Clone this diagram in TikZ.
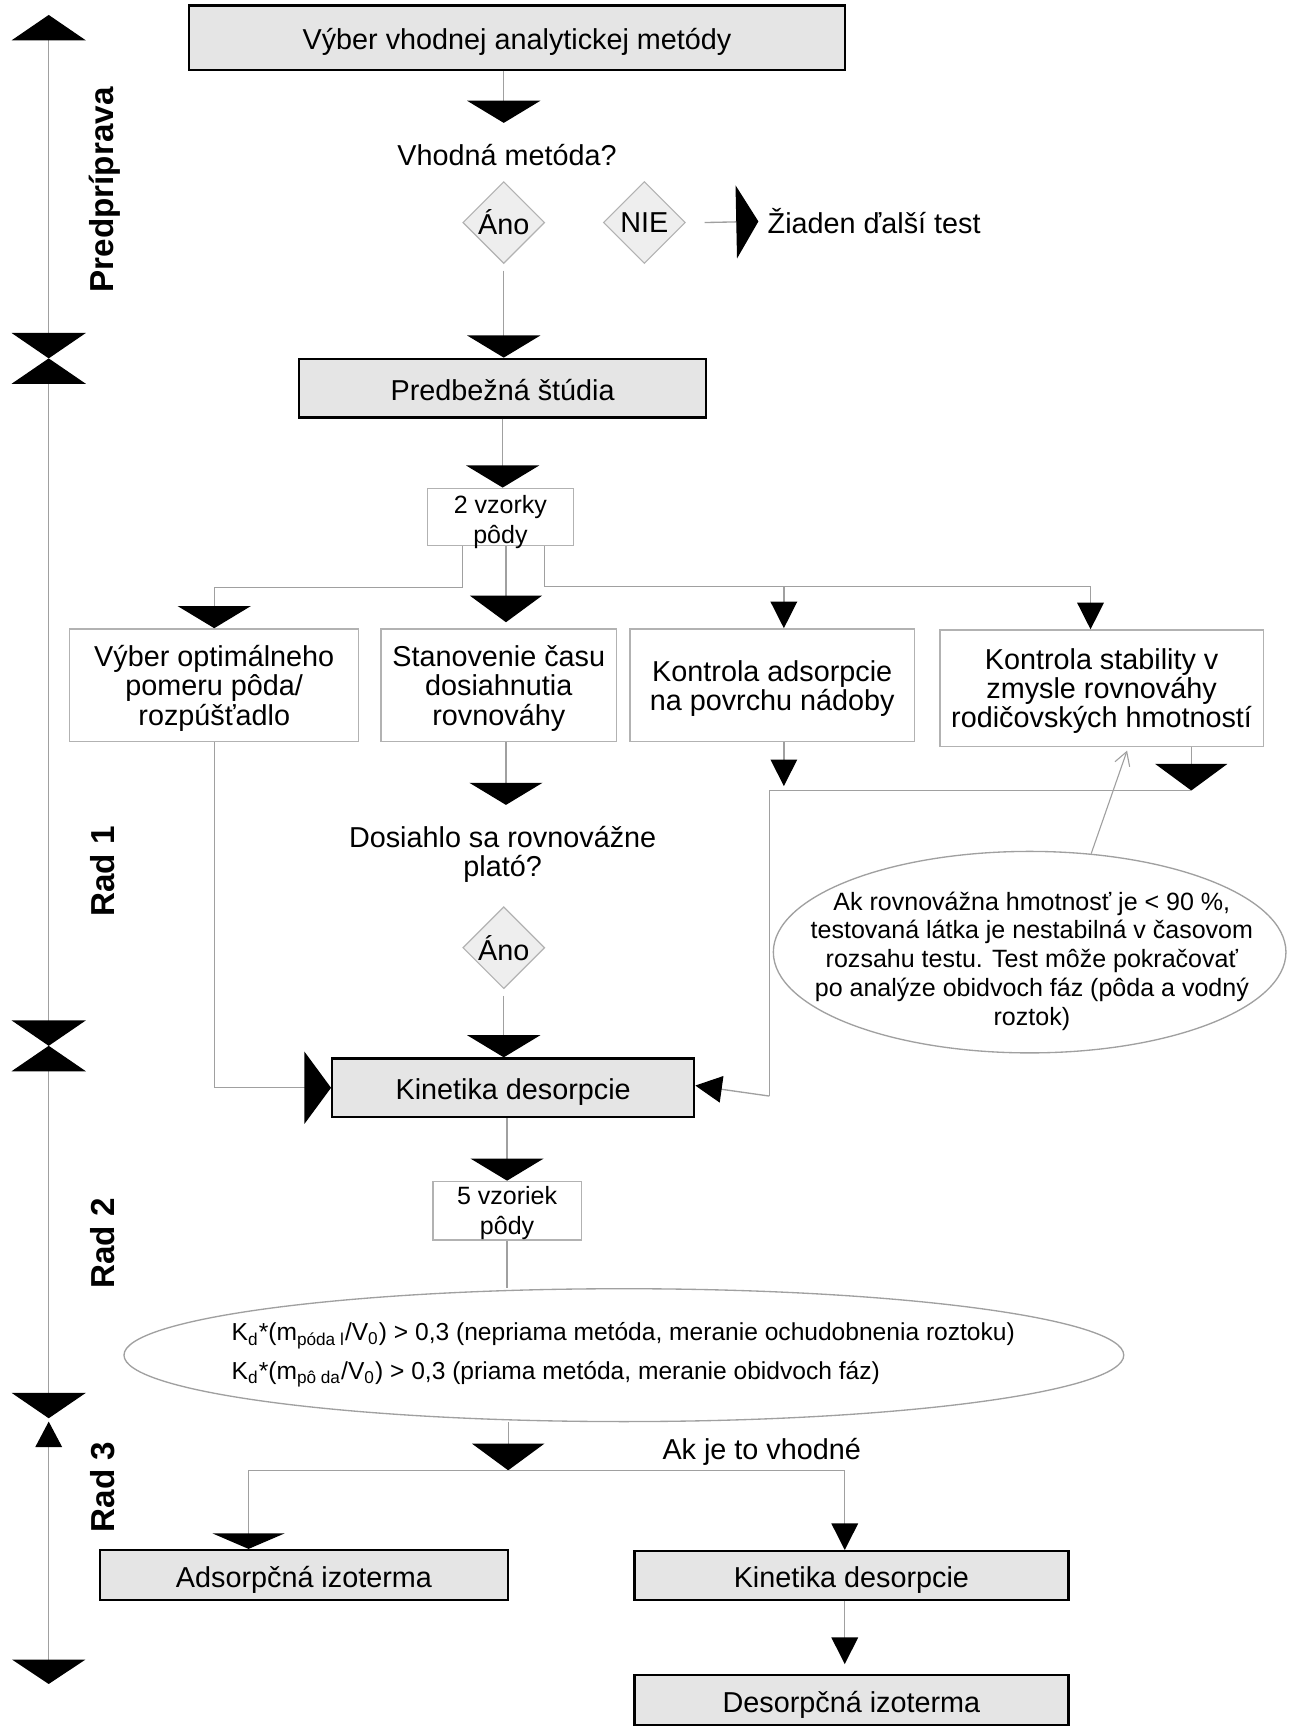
\documentclass[tikz,border=0pt]{standalone}
\usepackage{fontspec}
\setmainfont{Liberation Sans}
\usepackage{xcolor}
\definecolor{boxgray}{RGB}{229,229,229}
\definecolor{diafill}{RGB}{238,238,238}
\definecolor{linegray}{RGB}{160,160,160}
\definecolor{rimgray}{RGB}{178,178,178}
\usepackage{tikz}
\usetikzlibrary{shapes.geometric, arrows.meta, positioning}

\begin{document}
\begin{tikzpicture}[x=0.5pt, y=-0.5pt,
    txt/.style={font=\fontsize{13}{13.3}\selectfont, align=center},
    smalltxt/.style={font=\fontsize{11.3}{13.5}\selectfont, align=center},
    mainbox/.style={draw=black, line width=1pt, fill=boxgray, inner sep=0pt, txt, text height=14pt, text depth=3pt},
    lightbox/.style={draw=rimgray, line width=0.6pt, fill=white, inner sep=0pt},
    answer/.style={diamond, draw=rimgray, line width=0.5pt, fill=diafill, inner sep=0pt, minimum size=37pt, txt},
    phase/.style={rotate=90, font=\bfseries\fontsize{15}{17}\selectfont},
    conn/.style={draw=linegray, line width=0.6pt},
    bigarr/.style={arrows={-{Triangle[width=33pt,length=10pt,color=black,fill=black]}}},
    deeparr/.style={arrows={-{Triangle[width=32.5pt,length=12pt,color=black,fill=black]}}},
    flatarr/.style={arrows={-{Triangle[width=32.5pt,length=7pt,color=black,fill=black]}}},
    smallarr/.style={arrows={-{Triangle[width=12pt,length=12pt,color=black,fill=black]}}},
    ptrarr/.style={arrows={-{Straight Barb[length=6pt,width=7pt]}}},
    axboth/.style={arrows={{Triangle[width=33.5pt,length=11.5pt,color=black,fill=black]}-{Triangle[width=33.5pt,length=11.5pt,color=black,fill=black]}}},
    axlast/.style={arrows={{Triangle[width=12pt,length=11.5pt,color=black,fill=black]}-{Triangle[width=33pt,length=11pt,color=black,fill=black]}}}
  ]
  \path[use as bounding box, fill=white] (0,0) rectangle (1173,1568);

  \draw[conn, axboth] (44,13.5) -- (44,323.7);
  \draw[conn, axboth] (44,323.7) -- (44,944.6);
  \draw[conn, axboth] (44,944.6) -- (44,1281);
  \draw[conn, axlast] (44,1284) -- (44,1521);
  \node[phase] (pred) at (95,171.5) {Predpríprava};
  \node[phase] (rad1) at (93,787) {Rad 1};
  \node[phase] (rad2) at (93,1123) {Rad 2};
  \node[phase] (rad3) at (93,1343) {Rad 3};

  \node[mainbox, minimum width=296pt, minimum height=29pt] (top) at (467,34) {Výber vhodnej analytickej metódy};
  \node[txt] (vq) at (458,140) {Vhodná metóda?};
  \node[answer] (ano1) at (455,201) {Áno};
  \node[answer] (nie) at (582,201) {NIE};
  \node[txt, anchor=west, inner sep=0pt] (notest) at (693,200) {Žiaden ďalší test};
  \node[mainbox, minimum width=184pt, minimum height=26.5pt] (pre) at (454,350.5) {Predbežná štúdia};
  \node[lightbox, smalltxt, text height=24pt, text depth=0pt, minimum width=66pt, minimum height=26pt] (vz2) at (452,467) {2 vzorky\\pôdy};

  \node[lightbox, txt, text depth=-1.3pt, minimum width=130.5pt, minimum height=51pt] (boxA) at (193.5,619) {Výber optimálneho\\pomeru pôda/\\rozpúšťadlo};
  \node[lightbox, txt, text depth=-1.3pt, minimum width=106.5pt, minimum height=51pt] (boxB) at (450.5,619) {Stanovenie času\\dosiahnutia\\rovnováhy};
  \node[lightbox, txt, text depth=-1.3pt, minimum width=128.5pt, minimum height=51pt] (boxC) at (697.5,619) {Kontrola adsorpcie\\na povrchu nádoby};
  \node[lightbox, txt, text depth=-1.3pt, minimum width=146pt, minimum height=52.5pt] (boxD) at (995,621.5) {Kontrola stability v\\zmysle rovnováhy\\rodičovských hmotností};

  \node[txt] (q2) at (454,771.5) {Dosiahlo sa rovnovážne\\plató?};
  \node[answer] (ano2) at (455,856) {Áno};
  \node[mainbox, minimum width=163.5pt, minimum height=26.5pt] (kin) at (463.5,982.5) {Kinetika desorpcie};

  \node[ellipse, draw=linegray, line width=0.6pt, fill=white, inner sep=0pt, minimum width=231.5pt, minimum height=91pt] (note) at (930,860) {};
  \node[font=\fontsize{11.3}{13}\selectfont, align=center] (notetext) at (932,868) {Ak rovnovážna hmotnosť je < 90 \%,\\testovaná látka je nestabilná v časovom\\rozsahu testu. Test môže pokračovať\\po analýze obidvoch fáz (pôda a vodný\\roztok)};

  \node[lightbox, smalltxt, text depth=-1.6pt, minimum width=67pt, minimum height=26.5pt] (vz5) at (458,1093.5) {5 vzoriek\\pôdy};
  \node[ellipse, draw=linegray, line width=0.6pt, fill=white, inner sep=0pt, minimum width=451.5pt, minimum height=60pt] (kd) at (563.5,1224) {};
  \node[font=\fontsize{11.1}{17.5}\selectfont, align=left] (kdtext) at (563,1224) {K\textsubscript{d}*(m\textsubscript{póda l}/V\textsubscript{0}) > 0,3 (nepriama metóda, meranie ochudobnenia roztoku)\\K\textsubscript{d}*(m\textsubscript{pô da}/V\textsubscript{0}) > 0,3 (priama metóda, meranie obidvoch fáz)};

  \node[txt] (cond) at (688,1311) {Ak je to vhodné};
  \node[mainbox, minimum width=184.5pt, minimum height=22.5pt] (adso) at (274.5,1422.5) {Adsorpčná izoterma};
  \node[mainbox, minimum width=196pt, minimum height=22pt] (kin2) at (769,1423) {Kinetika desorpcie};
  \node[mainbox, minimum width=196pt, minimum height=22.5pt] (deso) at (769,1535.5) {Desorpčná izoterma};

  \coordinate (c1) at (455,111);
  \coordinate (c2) at (457,727);
  \coordinate (c3) at (457,562);
  \coordinate (c4) at (708,710);
  \coordinate (c5) at (763,1503);
  \coordinate (jc) at (708,530);
  \coordinate (jr) at (985,530);
  \coordinate (jd) at (1076,714);
  \coordinate (jk) at (695,990);
  \coordinate (jb) at (459,1328);
  \coordinate (ptr) at (1018,678);

  \draw[conn, bigarr] (c1 |- top.south) -- (c1);
  \draw[conn, bigarr] ([yshift=-3pt]ano1.south) -- (ano1.south |- pre.north);
  \draw[conn, bigarr] ([xshift=8.5pt]nie.east) -- ([xshift=-4pt]notest.west);
  \draw[conn, bigarr] (pre.south) -- (pre.south |- vz2.north);
  \draw[conn, bigarr] ([xshift=-17pt]vz2.south) -- ++(0,-18.5pt) -| (boxA.north);
  \draw[conn, deeparr] (c3 |- vz2.south) -- (c3);
  \draw[conn] ([xshift=20pt]vz2.south) |- (jr);
  \draw[conn, smallarr] (jc) -- (jc |- boxC.north);
  \draw[conn, smallarr] (jr) -- (jr |- boxD.north);
  \draw[conn, deeparr] (boxA.south) |- (kin.west);
  \draw[conn, bigarr] (c2 |- boxB.south) -- (c2);
  \draw[conn, bigarr] ([yshift=-3pt]ano2.south) -- (ano2.south |- kin.north);
  \draw[conn, smallarr] (c4 |- boxC.south) -- (c4);
  \draw[conn, deeparr] (jd |- boxD.south) -- (jd);
  \draw[conn] (jd) -| (jk);
  \draw[conn, smallarr] (jk) -- ([yshift=1pt]kin.east);
  \draw[conn, line width=0.5pt, ptrarr] (note.58) -- (ptr);
  \draw[conn, bigarr] (vz5.north |- kin.south) -- (vz5.north);
  \draw[conn] (vz5.south) -- (vz5.south |- kd.north);
  \draw[conn, deeparr] (jb |- kd.south) -- (jb);
  \draw[conn, flatarr] (jb) -| ([xshift=-25pt]adso.north);
  \draw[conn, smallarr] (jb) -| ([xshift=-3pt]kin2.north);
  \draw[conn, smallarr] (c5 |- kin2.south) -- (c5);
\end{tikzpicture}
\end{document}
